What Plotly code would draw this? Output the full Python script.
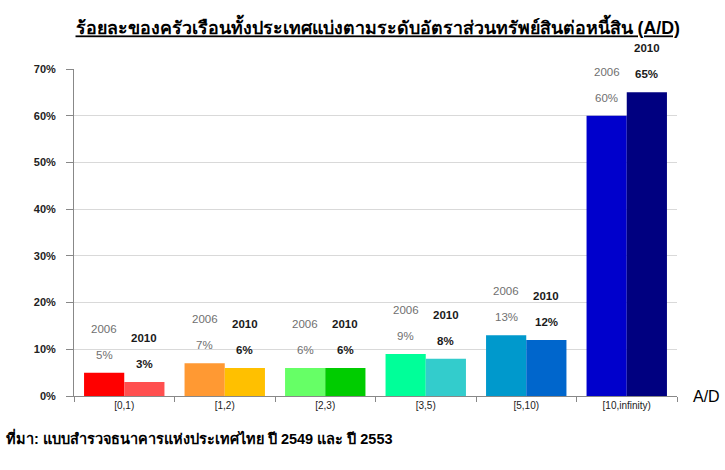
import plotly.graph_objects as go

categories = ["[0,1)", "[1,2)", "[2,3)", "[3,5)", "[5,10)", "[10,infinity)"]
values_2006 = [5, 7, 6, 9, 13, 60]
values_2010 = [3, 6, 6, 8, 12, 65]
colors_2006 = ["#FF0000", "#FF9933", "#66FF66", "#00FF99", "#0099CC", "#0000CC"]
colors_2010 = ["#FF4F4F", "#FFC000", "#00CC00", "#33CCCC", "#0066CC", "#000080"]
y_ticks = [0, 10, 20, 30, 40, 50, 60, 70]
y_tick_labels = [f"{v}%" for v in y_ticks]

title_text = "ร้อยละของครัวเรือนทั้งประเทศแบ่งตามระดับอัตราส่วนทรัพย์สินต่อหนี้สิน (A/D)"
source_text = "ที่มา: แบบสำรวจธนาคารแห่งประเทศไทย ปี 2549 และ ปี 2553"

FONT = "Liberation Sans, Arial, sans-serif"

fig = go.Figure()
fig.add_trace(go.Bar(x=categories, y=values_2006, name="2006",
                     marker=dict(color=colors_2006, line=dict(width=0))))
fig.add_trace(go.Bar(x=categories, y=values_2010, name="2010",
                     marker=dict(color=colors_2010, line=dict(width=0))))

annotations = []
for series, year, shift, col, bold in [(values_2006, "2006", -20, "#707070", False),
                                       (values_2010, "2010", 20, "#1a1a1a", True)]:
    for cat, v in zip(categories, series):
        yr = f"<b>{year}</b>" if bold else year
        val = f"<b>{v}%</b>" if bold else f"{v}%"
        annotations.append(dict(x=cat, y=v, xref="x", yref="y", xshift=shift, yshift=18,
                                text=val, showarrow=False,
                                font=dict(family=FONT, size=11.5, color=col)))
        annotations.append(dict(x=cat, y=v, xref="x", yref="y", xshift=shift, yshift=44,
                                text=yr, showarrow=False,
                                font=dict(family=FONT, size=11.5, color=col)))

annotations.append(dict(x=1.0, y=0, xref="paper", yref="y", xanchor="left", xshift=14,
                        text="A/D", showarrow=False,
                        font=dict(family=FONT, size=16, color="#000000")))
annotations.append(dict(x=0, y=0, xref="paper", yref="paper", xanchor="left", yanchor="middle",
                        xshift=-70, yshift=-41, text="<b>" + source_text + "</b>", showarrow=False,
                        font=dict(family=FONT, size=14.5, color="#000000")))

fig.update_layout(
    width=725, height=470,
    margin=dict(l=74, r=48, t=69, b=74),
    paper_bgcolor="white", plot_bgcolor="white",
    barmode="group", bargap=0.2, bargroupgap=0,
    showlegend=False,
    title=dict(text="<b>" + title_text + "</b>", x=0.521, xanchor="center", y=0.94, yanchor="middle",
               font=dict(family=FONT, size=17.8, color="#000000", lineposition="under")),
    xaxis=dict(type="category", tickson="boundaries", ticks="outside", ticklen=5,
               tickcolor="#888888", showline=True, linecolor="#888888", linewidth=1,
               showgrid=False,
               tickfont=dict(family=FONT, size=10, color="#222222")),
    yaxis=dict(range=[0, 70], tickmode="array", tickvals=y_ticks, ticktext=y_tick_labels,
               ticks="outside", ticklen=7, ticklabelstandoff=8,
               tickcolor="#888888", showline=True, linecolor="#888888", linewidth=1,
               showgrid=True, gridcolor="#d9d9d9", zeroline=False,
               tickfont=dict(family=FONT, size=11, color="#222222", weight="bold")),
    annotations=annotations,
)

fig.write_html("out.html")
